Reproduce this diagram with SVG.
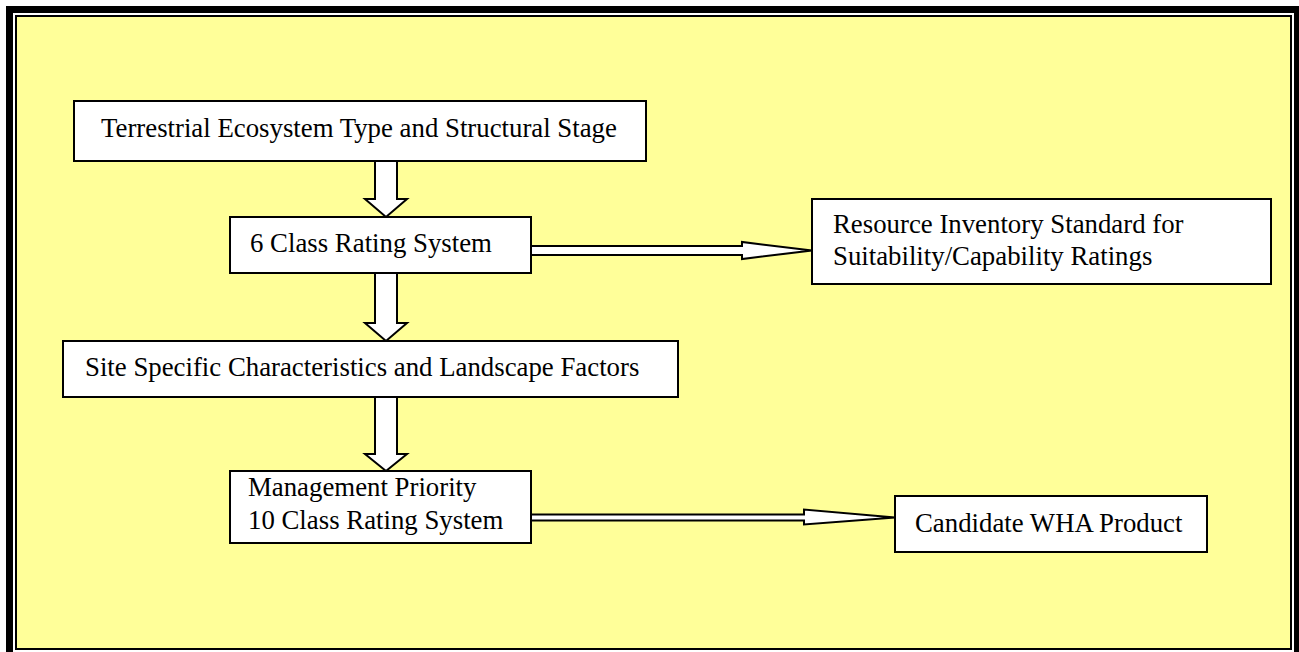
<svg xmlns="http://www.w3.org/2000/svg" width="1299" height="652" viewBox="0 0 1299 652">
<style>
.box{fill:#ffffff;stroke:#000000;stroke-width:2}
.arr{fill:#ffffff;stroke:#000000;stroke-width:2;stroke-linejoin:miter}
.t{font-family:"Liberation Serif","Times New Roman",serif;font-size:26.8px;fill:#000000}
</style>
<rect x="0" y="0" width="1299" height="652" fill="#ffffff"/>
<rect x="9.5" y="9.5" width="1288" height="646" fill="none" stroke="#000000" stroke-width="7"/>
<rect x="16" y="16" width="1275" height="633" fill="#ffff99" stroke="#000000" stroke-width="2"/>
<g id="connectors">
<polygon class="arr" points="375,161 397,161 397,199 407,199 386,217 365,199 375,199"/>
<polygon class="arr" points="375,273 397,273 397,323 407,323 386,341 365,323 375,323"/>
<polygon class="arr" points="375,397 397,397 397,454 407,454 386,471 365,454 375,454"/>
<polygon class="arr" points="531,246 742,246 742,242 812,250.5 742,259 742,255 531,255"/>
<polygon class="arr" points="531,514.5 804,514.5 804,509.5 895,517.5 804,524.5 804,520.5 531,520.5"/>
</g>
<g id="node-terrestrial">
<rect class="box" x="74" y="101" width="572" height="60"/>
<text class="t" x="101" y="137">Terrestrial Ecosystem Type and Structural Stage</text>
</g>
<g id="node-6class">
<rect class="box" x="230" y="217" width="301" height="56"/>
<text class="t" x="250" y="252">6 Class Rating System</text>
</g>
<g id="node-resource">
<rect class="box" x="812" y="199" width="459" height="85"/>
<text class="t" x="833" y="233">Resource Inventory Standard for</text>
<text class="t" x="833" y="265">Suitability/Capability Ratings</text>
</g>
<g id="node-site">
<rect class="box" x="63" y="341" width="615" height="56"/>
<text class="t" x="85" y="376">Site Specific Characteristics and Landscape Factors</text>
</g>
<g id="node-management">
<rect class="box" x="230" y="471" width="301" height="72"/>
<text class="t" x="248" y="496">Management Priority</text>
<text class="t" x="248" y="529">10 Class Rating System</text>
</g>
<g id="node-candidate">
<rect class="box" x="895" y="496" width="312" height="56"/>
<text class="t" x="915" y="532">Candidate WHA Product</text>
</g>
</svg>
